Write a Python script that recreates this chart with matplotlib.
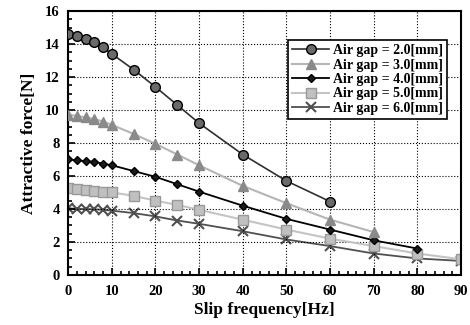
import matplotlib
matplotlib.use('Agg')
import matplotlib.pyplot as plt
from matplotlib.ticker import MultipleLocator

plt.rcParams['font.family'] = 'Liberation Serif'
plt.rcParams['font.weight'] = 'bold'

# data
freq_a = [0, 2, 4, 6, 8, 10, 15, 20, 25, 30, 40, 50, 60]
gap2 = [14.6, 14.5, 14.3, 14.1, 13.8, 13.4, 12.45, 11.4, 10.3, 9.2, 7.3, 5.7, 4.45]
freq_b = [0, 2, 4, 6, 8, 10, 15, 20, 25, 30, 40, 50, 60, 70]
gap3 = [9.7, 9.65, 9.55, 9.45, 9.3, 9.1, 8.55, 7.95, 7.3, 6.65, 5.4, 4.35, 3.35, 2.6]
freq_c = [0, 2, 4, 6, 8, 10, 15, 20, 25, 30, 40, 50, 60, 70, 80]
gap4 = [7.0, 6.95, 6.9, 6.85, 6.75, 6.65, 6.3, 5.95, 5.5, 5.05, 4.2, 3.4, 2.75, 2.1, 1.6]
freq_d = [0, 2, 4, 6, 8, 10, 15, 20, 25, 30, 40, 50, 60, 70, 80, 90]
gap5 = [5.25, 5.2, 5.15, 5.1, 5.05, 5.0, 4.8, 4.5, 4.25, 3.95, 3.35, 2.75, 2.2, 1.75, 1.3, 0.95]
gap6 = [4.05, 4.0, 4.0, 3.98, 3.95, 3.9, 3.75, 3.55, 3.3, 3.1, 2.65, 2.15, 1.75, 1.3, 1.0, 0.85]
labels = ['Air gap = 2.0[mm]', 'Air gap = 3.0[mm]', 'Air gap = 4.0[mm]',
          'Air gap = 5.0[mm]', 'Air gap = 6.0[mm]']

fig = plt.figure(figsize=(4.7, 3.25), dpi=100)
ax = fig.add_axes([0.145, 0.154, 0.836, 0.812])

ax.plot(freq_a, gap2, '-o', color='#303030', lw=1.2, ms=7, mfc='#6a6a6a', mec='black',
        mew=1.0, label=labels[0], zorder=5)
ax.plot(freq_b, gap3, '-^', color='#b5b5b5', lw=1.5, ms=7, mfc='#8a8a8a', mec='#8a8a8a',
        label=labels[1], zorder=4)
ax.plot(freq_c, gap4, '-D', color='black', lw=1.3, ms=4.5, mfc='#1a1a1a', mec='black',
        label=labels[2], zorder=3)
ax.plot(freq_d, gap5, '-s', color='#c4c4c4', lw=1.5, ms=6.5, mfc='#c0c0c0', mec='#999999',
        label=labels[3], zorder=2)
ax.plot(freq_d, gap6, '-x', color='#505050', lw=1.3, ms=7.5, mew=1.5, label=labels[4], zorder=1)

ax.set_xlim(0, 90)
ax.set_ylim(0, 16)
ax.xaxis.set_major_locator(MultipleLocator(10))
ax.xaxis.set_minor_locator(MultipleLocator(2))
ax.yaxis.set_major_locator(MultipleLocator(2))
ax.yaxis.set_minor_locator(MultipleLocator(0.5))
ax.tick_params(which='both', direction='in', labelsize=10.5, width=1.2)
ax.tick_params(axis='x', pad=7)
ax.tick_params(axis='y', pad=6)
ax.tick_params(which='major', length=5)
ax.tick_params(which='minor', length=3)
ax.grid(True, which='major', linestyle=':', color='black', lw=0.8)
for s in ax.spines.values():
    s.set_linewidth(1.5)

ax.set_xlabel('Slip frequency[Hz]', fontsize=12.5, fontweight='bold', labelpad=3)
ax.set_ylabel('Attractive force[N]', fontsize=12.5, fontweight='bold', labelpad=6)

leg = ax.legend(loc='upper right', bbox_to_anchor=(0.964, 0.89), fontsize=10,
                fancybox=False, framealpha=1, edgecolor='black', borderpad=0.3,
                labelspacing=0.1, handlelength=2.6, handletextpad=0.3, borderaxespad=0)
leg.get_frame().set_linewidth(1.2)

fig.savefig('out.png', dpi=100)
